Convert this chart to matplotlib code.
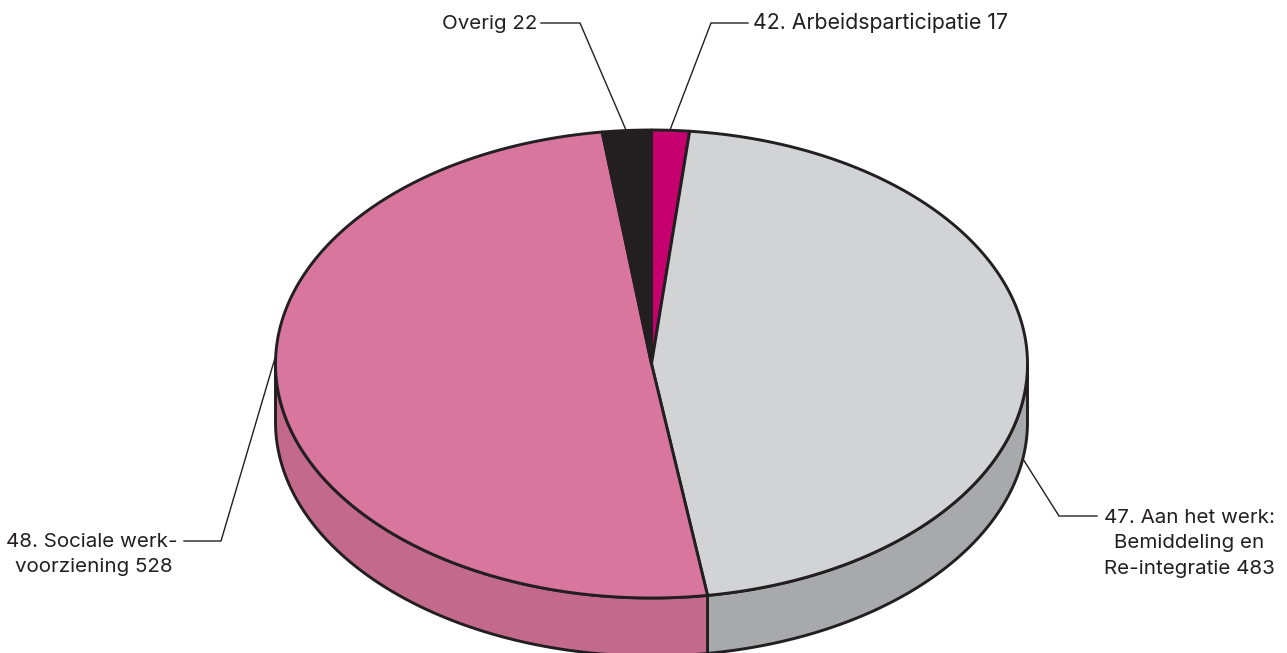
import numpy as np
import matplotlib
matplotlib.use("Agg")
import matplotlib.pyplot as plt
from matplotlib.patches import Polygon

plt.rcParams['font.family'] = ['Inter', 'DejaVu Sans']

categories = ["42. Arbeidsparticipatie", "47. Aan het werk", "48. Sociale werkvoorziening", "Overig"]
values = [17, 483, 528, 22]
top_colors = ["#C6006F", "#D1D3D4", "#D8769E", "#231F20"]
side_colors = ["#A0005A", "#A7A9AC", "#C2698C", "#231F20"]

W, H = 1287, 653
CX, CY, RX, RY, DEPTH = 651.5, 364, 376, 234, 58
EDGE = "#231F20"
LW = 2.1

fig = plt.figure(figsize=(W / 100, H / 100), dpi=100)
ax = fig.add_axes([0, 0, 1, 1])
ax.set_xlim(0, W)
ax.set_ylim(H, 0)
ax.axis("off")


def rim(t, dy=0):
    t = np.radians(t)
    return np.column_stack([CX + RX * np.sin(t), CY - RY * np.cos(t) + dy])


total = sum(values)
edges = np.concatenate([[0], np.cumsum(values)]) / total * 360

# side walls (front half only: angles 90..270 clockwise from top)
for i in range(len(values)):
    a, b = max(edges[i], 90), min(edges[i + 1], 270)
    if b <= a:
        continue
    ts = np.linspace(a, b, 200)
    pts = np.vstack([rim(ts), rim(ts[::-1], DEPTH)])
    ax.add_patch(Polygon(pts, closed=True, facecolor=side_colors[i], edgecolor=EDGE, lw=LW, joinstyle="round", zorder=2))

# top slices
for i in range(len(values)):
    ts = np.linspace(edges[i], edges[i + 1], 300)
    pts = np.vstack([[CX, CY], rim(ts)])
    ax.add_patch(Polygon(pts, closed=True, facecolor=top_colors[i], edgecolor=EDGE, lw=LW, joinstyle="round", zorder=3))

# leader lines
leaders = [
    [(670, 130), (711, 23), (748, 23)],
    [(626, 130), (580, 23), (541, 23)],
    [(1023, 459), (1059, 516), (1097, 516)],
    [(275, 358), (221, 541), (184, 541)],
]
for ln in leaders:
    xs, ys = zip(*ln)
    ax.plot(xs, ys, color=EDGE, lw=1.0, zorder=4, solid_joinstyle="miter")

FS = 14.8
kw = dict(color=EDGE, va="baseline", zorder=5)
ax.text(753, 29, "42. Arbeidsparticipatie 17", ha="left", fontsize=15.35, **kw)
ax.text(537, 29, "Overig 22", ha="right", fontsize=FS, **kw)
ax.text(1189, 523, "47. Aan het werk:", ha="center", fontsize=FS, **kw)
ax.text(1189, 548, "Bemiddeling en", ha="center", fontsize=FS, **kw)
ax.text(1189, 574, "Re-integratie 483", ha="center", fontsize=FS, **kw)
ax.text(178, 547, "48. Sociale werk-", ha="right", fontsize=FS, **kw)
ax.text(93.5, 572, "voorziening 528", ha="center", fontsize=FS, **kw)

fig.savefig("out.png", dpi=100)
